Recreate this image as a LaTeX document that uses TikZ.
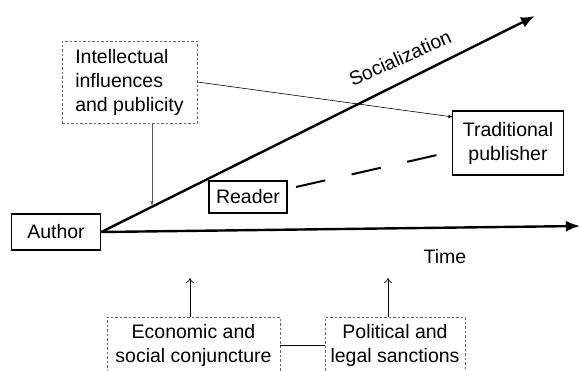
\documentclass[tikz,border=0pt]{standalone}
\usepackage{fontspec}
\setmainfont{Liberation Sans}
\usetikzlibrary{arrows.meta}
\begin{document}
\begin{tikzpicture}[x=1pt,y=-1pt,>=latex,
  font=\fontsize{19.5}{24}\selectfont,
  solidbox/.style={draw,line width=1.6pt,inner sep=0pt},
  factorbox/.style={draw,gray!80!black,dash pattern=on 2.5pt off 2pt,line width=0.7pt,text=black,inner sep=0pt,align=center}]
\useasboundingbox (0,0) rectangle (581,370);
\node[solidbox,minimum width=89pt,minimum height=36pt] (author) at (56,232) {Author};
\node[solidbox,minimum width=111pt,minimum height=64pt,align=center] (publisher) at (508,143) {Traditional\\publisher};
\node[solidbox,minimum width=78pt,minimum height=32pt] (reader) at (248,197) {Reader};
\node[factorbox,align=left,minimum width=135pt,minimum height=82pt] (intel) at (129.5,82) {Intellectual\\influences\\and publicity};
\node[factorbox,minimum width=173pt,minimum height=56pt] (econ) at (193.5,345) {Economic and\\social conjuncture};
\node[factorbox,minimum width=140pt,minimum height=56pt] (polit) at (395,345) {Political and\\legal sanctions};
\coordinate (soc) at (535,16);
\coordinate (time) at (580,226);
\draw[-{Latex[length=14pt,width=11pt]},line width=2.4pt] (author.east)--(soc);
\draw[-{Latex[length=14pt,width=11pt]},line width=2.4pt] (author.east)--(time);
\node[rotate=24] (soclabel) at (400,58) {Socialization};
\node (timelabel) at (445,257) {Time};
\coordinate (pubin) at (453,117);
\draw[->,line width=0.6pt] (intel.east)--(pubin);
\coordinate (socin) at (152,206);
\draw[->,line width=0.6pt,gray!70!black] (intel.south-|socin)--(socin);
\coordinate (rdout) at (296,187);
\coordinate (pubout) at (437,155);
\draw[line width=2pt,dash pattern=on 30pt off 27pt] (rdout)--(pubout);
\coordinate (econup) at (190,278);
\coordinate (politup) at (388,278);
\draw[-{To[length=5pt,width=8pt]},line width=0.6pt] (econ.north-|econup)--(econup);
\draw[-{To[length=5pt,width=8pt]},line width=0.6pt] (polit.north-|politup)--(politup);
\draw[line width=0.6pt] (econ.east)--(polit.west);
\end{tikzpicture}
\end{document}
